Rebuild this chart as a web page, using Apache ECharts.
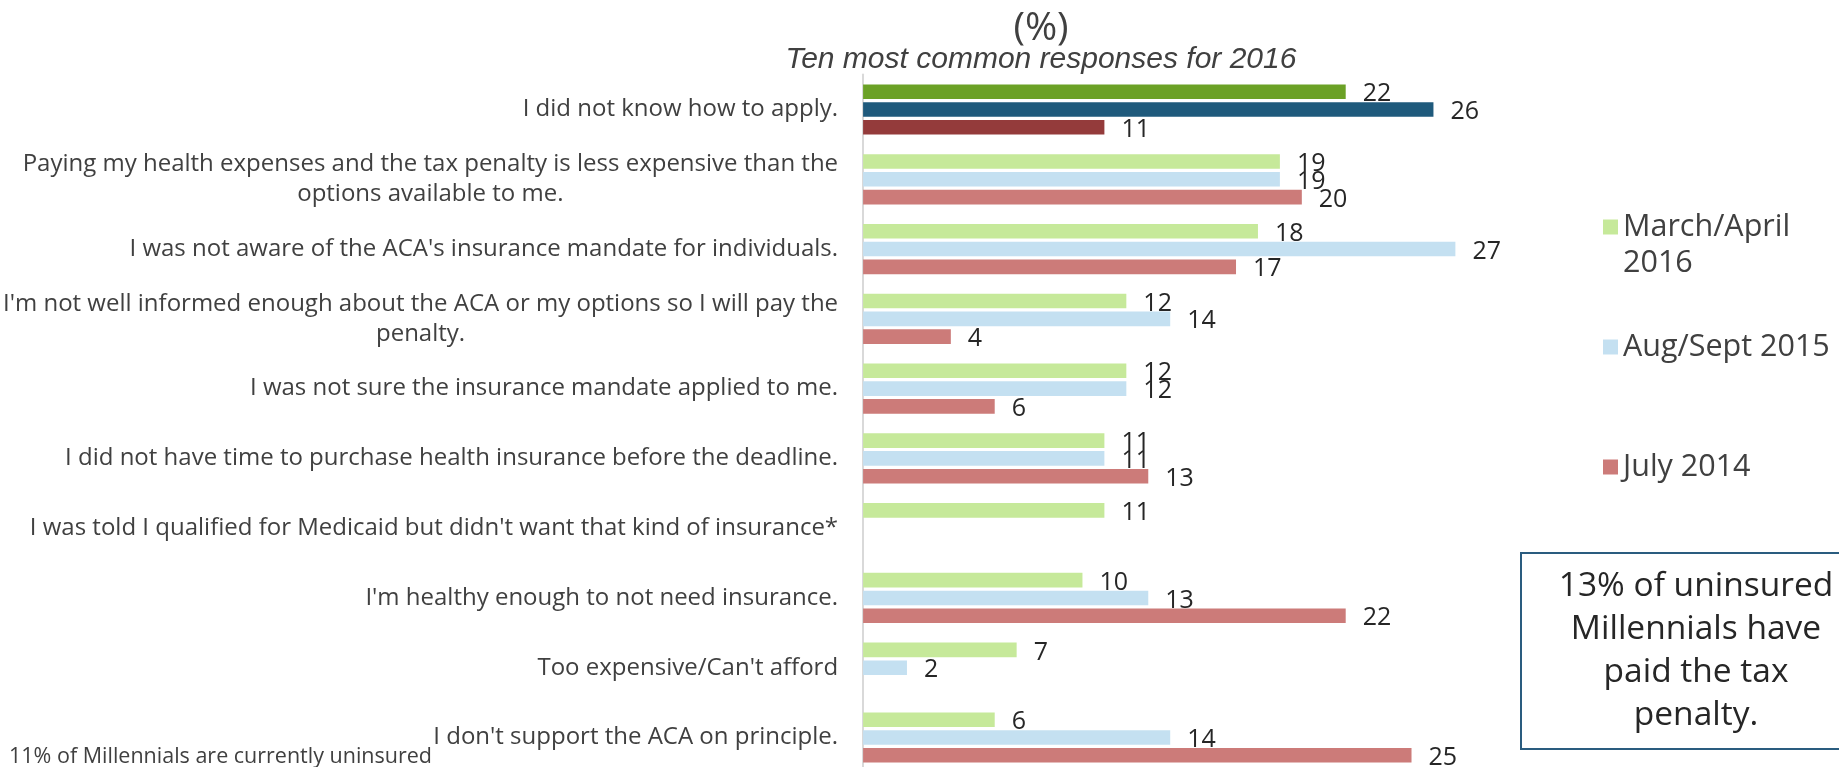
<!DOCTYPE html>
<html>
<head>
<meta charset="utf-8">
<script src="https://cdn.jsdelivr.net/npm/echarts@6/dist/echarts.min.js"></script>
<style>
  html, body { margin: 0; padding: 0; background: #fff; overflow: hidden; }
  /* the plot area runs a few pixels past the bottom edge of the page */
  #chart { width: 1839px; height: 780px; }
</style>
</head>
<body>
<div id="chart"></div>
<script>
// Reasons uninsured Millennials give for not getting coverage (%)
const categories = [
  "I did not know how to apply.",
  "Paying my health expenses and the tax penalty is less expensive than the\noptions available to me.",
  "I was not aware of the ACA's insurance mandate for individuals.",
  "I'm not well informed enough about the ACA or my options so I will pay the\npenalty.",
  "I was not sure the insurance mandate applied to me.",
  "I did not have time to purchase health insurance before the deadline.",
  "I was told I qualified for Medicaid but didn't want that kind of insurance*",
  "I'm healthy enough to not need insurance.",
  "Too expensive/Can't afford",
  "I don't support the ACA on principle."
];
const seriesNames = ["March/April 2016", "Aug/Sept 2015", "July 2014"];
const marchApril2016 = [22, 19, 18, 12, 12, 11, 11, 10, 7, 6];
const augSept2015    = [26, 19, 27, 14, 12, 11, null, 13, 2, 14];
const july2014       = [11, 20, 17, 4, 6, 13, null, 22, null, 25];

const titleText = "(%)";
const subtitleText = "Ten most common responses for 2016";
const noteText = "11% of Millennials are currently uninsured";
const calloutText = "13% of uninsured\nMillennials have\npaid the tax\npenalty.";

// Styling
const FONT = '"Open Sans", "Noto Sans", sans-serif';
const baseColors = ['#c6e99a', '#c4e0f1', '#cc7b79'];
const leadColors = ['#6ba126', '#1f5a7c', '#943b3b']; // top row is emphasised
const seriesValues = [marchApril2016, augSept2015, july2014];

const chart = echarts.init(document.getElementById('chart'), null, { renderer: 'canvas' });

const legendCommon = {
  orient: 'vertical',
  left: 1603,
  padding: 0,
  icon: 'rect',
  itemWidth: 15,
  itemHeight: 15,
  selectedMode: false,
  textStyle: { fontFamily: FONT, fontSize: 30.5, color: '#404040', lineHeight: 36 }
};

const option = {
  animation: false,
  backgroundColor: '#ffffff',
  title: [
    {
      text: titleText, left: 1041, top: 7, textAlign: 'center', padding: 0,
      textStyle: { fontFamily: FONT, fontSize: 39, fontWeight: 'normal', color: '#404040', lineHeight: 44 }
    },
    {
      text: subtitleText, left: 1041, top: 44, textAlign: 'center', padding: 0,
      textStyle: { fontFamily: '"Liberation Sans", Arial, sans-serif', fontStyle: 'italic', fontSize: 30, fontWeight: 'normal', color: '#404040', lineHeight: 32 }
    }
  ],
  legend: [
    // leading blank line keeps the swatch level with the first text line
    Object.assign({}, legendCommon, {
      data: [seriesNames[0]], top: 173,
      formatter: n => '\n' + n.replace(' ', '\n')
    }),
    Object.assign({}, legendCommon, { data: [seriesNames[1]], top: 329 }),
    Object.assign({}, legendCommon, { data: [seriesNames[2]], top: 449 })
  ],
  grid: { left: 862, top: 74.6, width: 659.2, height: 697.8, containLabel: false },
  xAxis: { type: 'value', min: 0, max: 30, show: false },
  yAxis: {
    type: 'category',
    data: categories,
    inverse: true,
    axisTick: { show: false },
    axisLine: { lineStyle: { color: '#d9d9d9', width: 2 } },
    axisLabel: {
      interval: 0,
      margin: 25,
      color: '#404040',
      fontFamily: FONT,
      fontSize: 24,
      formatter: v => v.split('\n').map(l => '{c|' + l + '}').join('\n'),
      rich: { c: { align: 'center', fontFamily: FONT, fontSize: 24, lineHeight: 30, color: '#404040' } }
    }
  },
  series: seriesValues.map((vals, s) => ({
    name: seriesNames[s],
    type: 'bar',
    barWidth: 14.6,
    barGap: '22%',
    itemStyle: { color: baseColors[s] },
    label: { show: true, position: 'right', distance: 17, offset: [0, 2.5], color: '#262626', fontFamily: FONT, fontSize: 25 },
    data: vals.map((v, i) => (i === 0 && v != null) ? { value: v, itemStyle: { color: leadColors[s] } } : v)
  })),
  graphic: [
    {
      type: 'text', left: 9, top: 746,
      style: { text: noteText, fontFamily: FONT, fontSize: 21.5, fill: '#404040' }
    },
    {
      type: 'rect', shape: { x: 1521, y: 553, width: 360, height: 196 },
      style: { fill: '#ffffff', stroke: '#2a5c7f', lineWidth: 2 }
    },
    {
      type: 'text', x: 1696, y: 651,
      style: { text: calloutText, align: 'center', verticalAlign: 'middle', fontFamily: FONT, fontSize: 33.5, lineHeight: 43, fill: '#262626' }
    }
  ]
};

chart.setOption(option);
</script>
</body>
</html>
